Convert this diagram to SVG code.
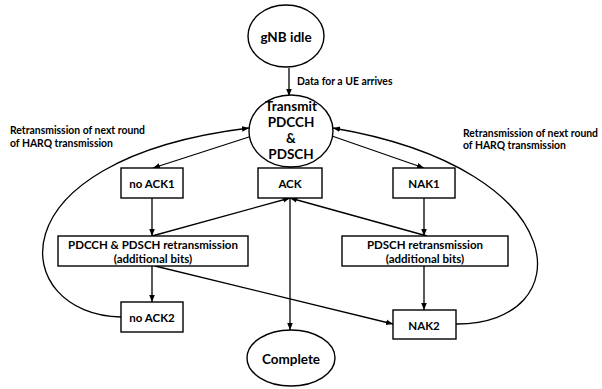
<svg xmlns="http://www.w3.org/2000/svg" width="602" height="389" viewBox="0 0 602 389">
<defs>
<marker id="ah" markerWidth="8" markerHeight="8" refX="7" refY="4" orient="auto" markerUnits="userSpaceOnUse">
<path d="M0,1.2 L7,4 L0,6.8 Z" fill="#000"/>
</marker>
<style>
.shape{fill:#fff;stroke:#000;stroke-width:1.4}
.t{font-family:Lato,"Open Sans","Liberation Sans",sans-serif;font-weight:bold;fill:#000;text-anchor:middle;dominant-baseline:central}
.big{font-size:13.5px}
.box{font-size:11.5px}
.lbl{font-family:Lato,"Open Sans","Liberation Sans",sans-serif;font-weight:bold;font-size:10.4px;fill:#000}
.c{fill:none;stroke:#000;stroke-width:1.3;marker-end:url(#ah)}
</style>
</defs>
<g id="connectors">
<path class="c" d="M289,68 L289,96"/>
<path class="c" d="M252,136 L153,168"/>
<path class="c" d="M290,166 L290,168"/>
<path class="c" d="M332,136 L424,168"/>
<path class="c" d="M152,198 L152,236"/>
<path class="c" d="M424,198 L424,236"/>
<path class="c" d="M152,236 L290,198"/>
<path class="c" d="M427,236 L290,198"/>
<path class="c" d="M290,198 L290,330"/>
<path class="c" d="M152,266 L152,302"/>
<path class="c" d="M424,266 L424,310"/>
<path class="c" d="M155,266 L393,324"/>
<path class="c" d="M121,317 C10,315 -12,160 249,128"/>
<path class="c" d="M456,324 C580,325 580,170 333,128"/>
<text class="lbl" x="297" y="85">Data for a UE arrives</text>
<text class="lbl" x="10" y="134">Retransmission of next round</text>
<text class="lbl" x="10" y="147">of HARQ transmission</text>
<text class="lbl" x="463" y="137">Retransmission of next round</text>
<text class="lbl" x="463" y="149">of HARQ transmission</text>
</g>
<g id="gnb-idle">
<ellipse class="shape" cx="286" cy="36" rx="38" ry="31"/>
<text class="t big" x="286" y="37">gNB idle</text>
</g>
<g id="transmit">
<ellipse class="shape" cx="291" cy="131" rx="42" ry="36"/>
<text class="t big" x="291" y="106">Transmit</text>
<text class="t big" x="291" y="122">PDCCH</text>
<text class="t big" x="291" y="138">&amp;</text>
<text class="t big" x="291" y="154">PDSCH</text>
</g>
<g id="noack1">
<rect class="shape" x="121" y="168" width="62" height="30"/>
<text class="t box" x="152" y="183">no ACK1</text>
</g>
<g id="ack">
<rect class="shape" x="258" y="168" width="64" height="30"/>
<text class="t box" x="290" y="183">ACK</text>
</g>
<g id="nak1">
<rect class="shape" x="393" y="168" width="62" height="30"/>
<text class="t box" x="424" y="183">NAK1</text>
</g>
<g id="pdcch-retx">
<rect class="shape" x="58" y="236" width="190" height="30"/>
<text class="t box" x="153" y="244">PDCCH &amp; PDSCH retransmission</text>
<text class="t box" x="153" y="258">(additional bits)</text>
</g>
<g id="pdsch-retx">
<rect class="shape" x="342" y="236" width="166" height="30"/>
<text class="t box" x="425" y="244">PDSCH retransmission</text>
<text class="t box" x="425" y="258">(additional bits)</text>
</g>
<g id="noack2">
<rect class="shape" x="121" y="302" width="62" height="30"/>
<text class="t box" x="152" y="317">no ACK2</text>
</g>
<g id="nak2">
<rect class="shape" x="393" y="310" width="63" height="29"/>
<text class="t box" x="424" y="325">NAK2</text>
</g>
<g id="complete">
<ellipse class="shape" cx="291" cy="358" rx="44" ry="28"/>
<text class="t big" x="291" y="359">Complete</text>
</g>
</svg>
